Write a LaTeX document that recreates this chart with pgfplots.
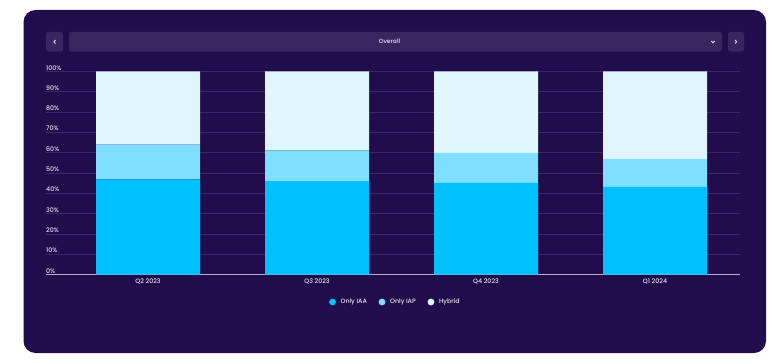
\documentclass[border=0pt]{standalone}
\usepackage{fontspec}
\setmainfont{Poppins}[UprightFont={* Medium}]
\usepackage{pgfplots}
\usepackage{pgfplotstable}
\pgfplotsset{compat=1.18}
\definecolor{panel}{HTML}{210D4B}
\definecolor{btn}{HTML}{3A2561}
\definecolor{gridc}{HTML}{3A2868}
\definecolor{iaa}{HTML}{00C1FF}
\definecolor{iap}{HTML}{80DFFF}
\definecolor{hyb}{HTML}{DFF6FE}
\definecolor{txt}{HTML}{E6E3EE}
\definecolor{basec}{HTML}{B5AEC9}
\pgfplotstableread{
x iaa iap hyb
0 46.9 17.1 36.0
1 46.0 15.1 38.9
2 45.1 14.8 40.1
3 43.2 13.6 43.2
}\data
\begin{document}
\begin{tikzpicture}
\begin{scope}[x=1bp,y=1bp]
\useasboundingbox (0,0) rectangle (780,363);
\fill[white] (0,0) rectangle (780,363);
\fill[panel, rounded corners=12bp] (23.5,10) rectangle (766,353);
% header
\fill[btn, rounded corners=2bp] (46,311.5) rectangle (63,331);
\fill[btn, rounded corners=2bp] (69,311.5) rectangle (722,331);
\fill[btn, rounded corners=2bp] (728,311.5) rectangle (744,331);
\node[text=txt, font=\fontsize{6}{7}\selectfont, inner sep=0pt] at (389.5,321.3) {Overall};
\draw[txt, line width=0.8bp] (55.5,323) -- (53.8,321.2) -- (55.5,319.4);
\draw[txt, line width=0.8bp] (735,323) -- (736.7,321.2) -- (735,319.4);
\draw[txt, line width=0.8bp] (711.3,322) -- (713,320.3) -- (714.7,322);
\end{scope}
\begin{axis}[
  at={(46bp,88.5bp)}, anchor=south west,
  width=694bp, height=203bp, scale only axis,
  xmin=-0.604, xmax=3.503, ymin=0, ymax=100,
  ybar stacked, bar width=104bp,
  xtick={0,1,2,3},
  xticklabels={Q2 2023,Q3 2023,Q4 2023,Q1 2024},
  ytick={0,10,...,100},
  yticklabel={\pgfmathprintnumber[assume math mode=true]{\tick}\%},
  major tick length=0pt,
  axis line style={draw=none},
  ymajorgrids,
  grid style={gridc, line width=0.6bp},
  extra y ticks={0},
  extra y tick labels={},
  extra y tick style={grid style={basec, line width=1.2bp}},
  tick label style={font=\fontsize{6.3}{7}\selectfont, text=txt},
  yticklabel style={anchor=south west, inner sep=0pt, yshift=1.2bp},
  xticklabel style={inner sep=0pt, yshift=-3.8bp},
  legend style={at={(0.502,-0.1355)}, anchor=center, draw=none, fill=none,
    text=txt, font=\fontsize{6.3}{7}\selectfont, inner sep=0pt,
    nodes={inner sep=0pt},
    /tikz/every odd column/.append style={column sep=4.7bp},
    /tikz/every even column/.append style={column sep=11.7bp}},
  legend columns=3,
]
\addplot[fill=iaa, draw=none,
  legend image code/.code={\fill[iaa] (0bp,0bp) circle (3.4bp);}]
  table[x=x, y=iaa] {\data};
\addlegendentry{Only IAA}
\addplot[fill=iap, draw=none,
  legend image code/.code={\fill[iap] (0bp,0bp) circle (3.4bp);}]
  table[x=x, y=iap] {\data};
\addlegendentry{Only IAP}
\addplot[fill=hyb, draw=none,
  legend image code/.code={\fill[hyb] (0bp,0bp) circle (3.4bp);}]
  table[x=x, y=hyb] {\data};
\addlegendentry{Hybrid}
\end{axis}
\end{tikzpicture}
\end{document}
